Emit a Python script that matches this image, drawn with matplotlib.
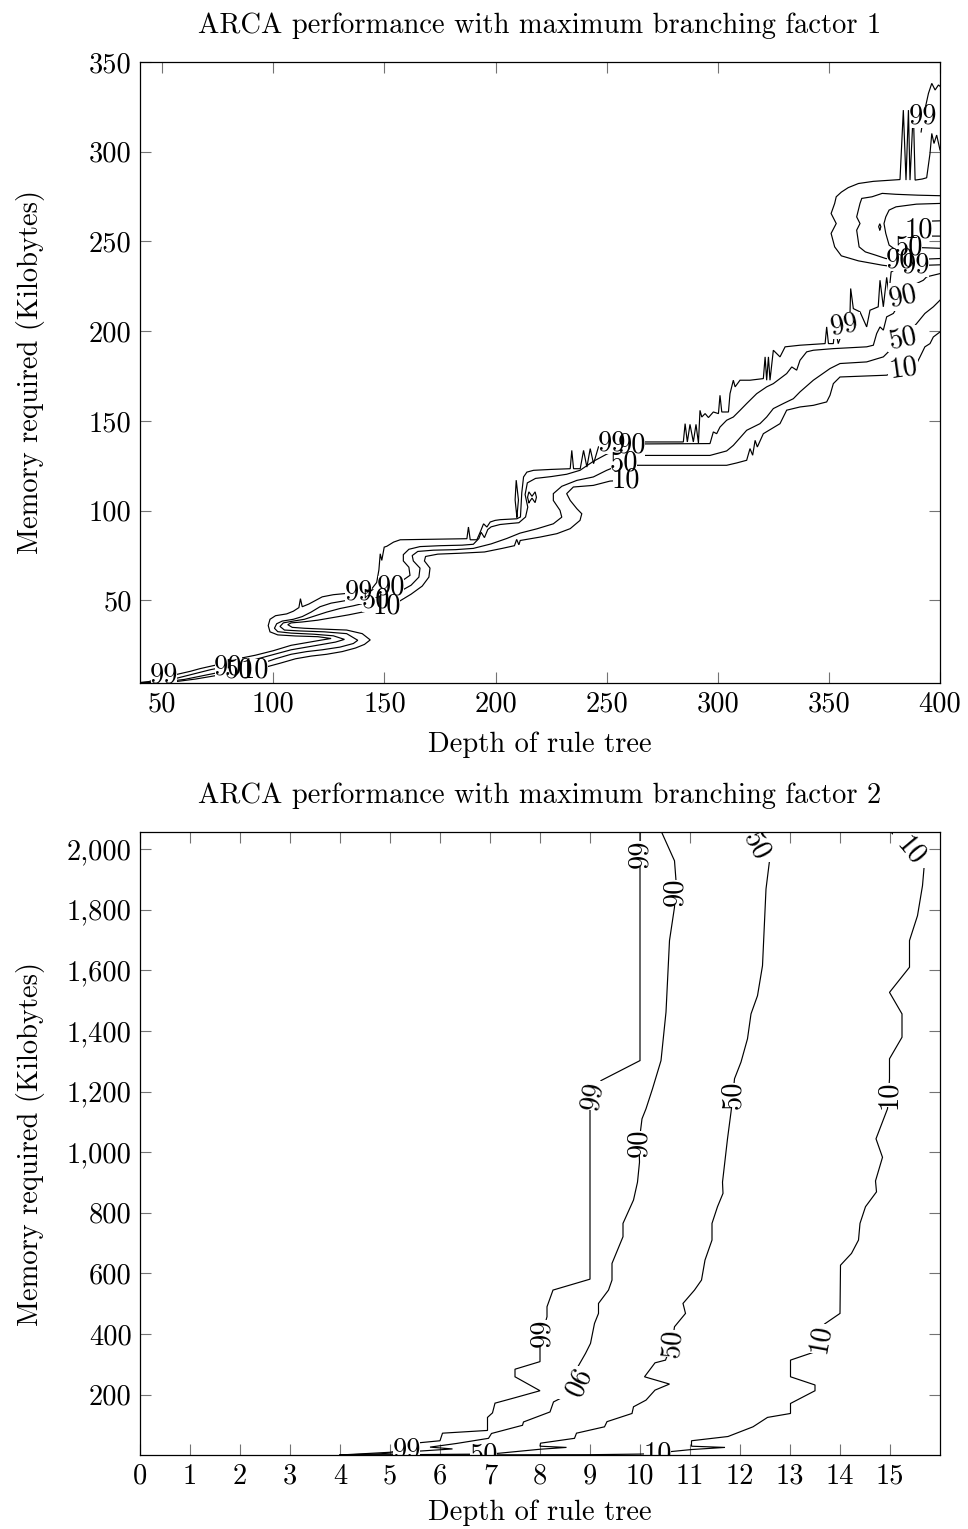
import matplotlib
matplotlib.use("Agg")
import matplotlib.pyplot as plt
from matplotlib.patches import Rectangle
from matplotlib.ticker import FuncFormatter, FixedLocator

plt.rcParams['font.family'] = 'serif'
plt.rcParams['font.serif'] = ['cmr10', 'DejaVu Serif']
plt.rcParams['mathtext.fontset'] = 'cm'
plt.rcParams['axes.formatter.use_mathtext'] = True
plt.rcParams['axes.unicode_minus'] = False

FS = 20.5

# ---------------- Top chart (branching factor 1) ----------------
top_xticks = [50, 100, 150, 200, 250, 300, 350, 400]
top_yticks = [50, 100, 150, 200, 250, 300, 350]

top_c99_main = [
    (40, 4.3), (44, 4.8), (47, 6.0), (50.9, 8.0), (56.6, 8.8), (62.6, 10.5), (67, 12.0), (72, 13.4), (76, 14.5),
    (84, 17.5), (92, 19.5), (100, 22.0), (108, 25.0), (115, 26.5), (122, 28.0), (126, 28.8), (120, 29.8),
    (110, 30.2), (102, 30.8), (98.5, 32.5), (97.7, 36.0), (98.5, 39.5), (101, 41.5), (106, 42.5), (109, 44.0),
    (111.5, 46.0), (112.2, 51.0), (113, 46.5), (116, 48.0), (119, 50.0), (122, 52.0), (127, 53.2), (132, 53.8),
    (138.4, 54.5), (144, 56.0), (146.5, 60.0), (147.5, 67.0), (148.1, 76.0), (148.8, 72.3), (149.9, 79.7),
    (151.1, 80.2), (154.1, 82.5), (157.1, 83.8), (172, 84.1), (187.1, 84.4), (187.8, 90.9), (188.6, 83.8),
    (191.6, 83.8), (193.1, 88.1), (194.6, 92.7), (196.1, 90.9), (197.6, 93.7), (199.8, 94.6), (202.1, 95.0),
    (209.6, 95.5), (211.2, 96.5), (211.8, 110.0), (212.6, 118.8), (214.1, 121.5), (217.1, 122.5), (225, 123.0),
    (233.6, 123.4), (234.3, 133.6), (235.1, 123.4), (238.1, 123.4), (239.6, 133.6), (241.1, 124.3),
    (242.6, 134.6), (244.1, 126.2), (246.3, 135.5), (248.6, 137.3), (252.4, 137.8), (258, 138.2),
    (266.5, 138.3), (284.5, 138.3), (285.3, 148.5), (286.3, 138.3), (287.5, 148.1), (289, 138.3),
    (290.2, 148.1), (291.3, 137.7), (292, 155.9), (292.8, 152.2), (294.3, 154.1), (295.8, 151.9), (298, 155.0),
    (300.3, 154.1), (301, 164.3), (301.8, 155.0), (304.8, 155.0), (305.5, 165.2), (307, 172.7), (307.8, 169.0),
    (310, 172.7), (314.5, 172.7), (320.5, 173.6), (321.3, 185.7), (322, 172.7), (322.8, 185.7), (323.5, 172.7),
    (325, 189.4), (328, 185.7), (330.3, 191.3), (337, 192.2), (348.3, 193.1), (349, 202.4), (349.8, 193.1),
    (352, 193.1), (352.7, 202.4), (354.2, 193.1), (357.2, 203.3), (359.5, 209.9), (359.8, 223.8), (361, 212.6),
    (364, 210.8), (367, 202.4), (368.5, 211.7), (372.2, 213.6), (373, 228.4), (374.5, 213.6), (376, 230.0),
    (377, 221.0), (378, 233.0), (382, 236.0), (389, 236.5), (395, 236.8), (400, 237.0)]
top_c99_loop = [
    (377, 236.3), (374, 236.8), (363.3, 239.2), (355.6, 242.0), (352.6, 247.0), (351.0, 254.5), (353.3, 260.0),
    (351.0, 265.6), (352.6, 271.2), (353.3, 274.9), (355.6, 277.5), (358.7, 280.0), (363.3, 282.3), (370, 283.5),
    (376, 284.0), (382, 284.5), (383.5, 323.2), (384.7, 284.2), (385.8, 323.2), (386.5, 284.2), (388, 323.2),
    (388.8, 284.2), (392, 284.8), (394, 285.5), (395.5, 299.0), (396.3, 310.2), (397.3, 304.6), (398.5, 309.3),
    (400, 301.0)]
top_c99_top = [(391.5, 311.0), (392.5, 319.5), (394.0, 328.0), (394.8, 332.5), (396.3, 338.1), (397.8, 334.4),
               (399.3, 337.2), (400, 336.5)]
top_c99_island = [(209.6, 96.5), (208.8, 106), (209.3, 117), (210.3, 106), (209.6, 96.5)]

top_c90_main = [
    (40, 4.1), (48, 4.8), (56, 6.5), (64, 9.0), (72, 11.5), (76.5, 12.5), (80, 12.8), (84, 14.5), (90, 16.5),
    (96, 18.5), (102, 20.5), (108, 22.5), (115, 24.0), (122, 25.5), (128, 26.8), (132, 28.3), (127, 30.3),
    (118, 31.2), (108, 31.8), (102, 32.6), (100.5, 34.5), (101.5, 37.0), (104, 38.5), (109, 39.5), (113, 41.0),
    (117, 43.5), (121, 46.5), (126, 48.5), (133, 50.0), (140, 51.5), (146, 54.5), (153, 57.5), (158, 61.0),
    (161.5, 64.0), (161, 68.5), (158.5, 72.0), (158.5, 75.5), (161, 78.5), (166, 80.0), (175, 80.5), (185, 80.8),
    (190, 81.3), (192.5, 84.5), (193.5, 88.0), (195, 85.0), (196.5, 89.5), (198, 91.0), (202, 92.3), (206, 92.8),
    (210.5, 93.3), (213.5, 96.5), (214.5, 102), (213.3, 109), (214.3, 115.5), (218, 118.0), (225, 119.0),
    (232, 120.3), (238, 122.5), (244, 127.5), (250, 131.5), (256, 134.5), (261.4, 136.4), (266.5, 137.2),
    (296.5, 137.4), (298, 143.9), (299.5, 142.9), (301, 146.6), (304, 150.4), (307, 152.2), (310, 155.9),
    (313, 159.7), (317.5, 165.2), (322, 169.0), (325, 170.8), (331, 176.4), (333.3, 180.1), (335.5, 178.3),
    (337, 183.8), (340, 188.5), (343, 189.4), (352, 190.3), (367, 191.3), (370, 192.2), (371.5, 198.7),
    (373, 202.4), (374.5, 200.6), (376, 208.0), (379, 209.9), (383.5, 219.1), (389.5, 226.6), (392.5, 228.4),
    (394, 230.3), (400, 232.1)]
top_c90_loop = [
    (400, 275.5), (390, 275.8), (380, 276.3), (374, 276.8), (369.4, 274.9), (364.8, 274.0), (364, 271.2),
    (362.5, 263.7), (364, 260.0), (362.5, 256.3), (363.6, 247.0), (366.4, 244.2), (371, 242.4), (375.6, 240.5),
    (382, 239.5), (390, 240.0), (400, 240.5)]
top_c90_island = [(215, 104.5), (214.4, 107.5), (215, 110.5), (216.4, 108), (217.8, 110.5), (218.4, 107.5),
                  (217.8, 104.5), (216.4, 107), (215, 104.5)]

top_c50_main = [
    (40, 4.0), (50, 4.5), (60, 6.0), (70, 8.5), (78, 10.5), (84, 11.2), (89, 13.0), (95, 15.0), (101, 17.5),
    (108, 20.0), (115, 21.5), (122, 22.5), (130, 24.0), (136, 26.0), (138, 27.8), (133, 31.5), (123, 32.5),
    (112, 33.0), (105, 33.5), (103, 35.5), (104.5, 37.5), (109, 38.5), (114, 39.5), (119, 41.5), (124, 43.5),
    (130, 45.5), (136, 47.0), (141, 48.5), (146, 50.0), (152, 52.5), (157, 55.0), (162, 58.5), (165.5, 63.0),
    (166, 68.0), (163, 72.0), (162.5, 75.0), (165, 77.3), (172, 78.0), (182, 78.3), (190, 79.0), (198, 81.5),
    (205, 84.5), (211, 87.5), (218.6, 89.9), (226, 92.7), (229.8, 96.4), (229, 100.2), (226, 105.7),
    (226, 109.5), (229.8, 113.6), (236.6, 116.9), (244, 118.8), (250, 122.5), (257.8, 126.4), (263.5, 130.8),
    (296.5, 130.8), (304, 133.3), (307, 136.4), (313, 144.8), (319, 148.5), (322, 152.2), (325, 156.9),
    (329.5, 159.7), (334, 162.4), (337, 166.2), (343, 172.7), (350.5, 179.2), (355, 182.0), (367, 182.9),
    (374.5, 185.7), (377.5, 189.4), (383.5, 195.9), (389.5, 204.3), (393.2, 209.9), (397, 213.6), (400, 217.3)]
top_c50_loop = [
    (400, 271.2), (389.4, 270.8), (380.2, 269.3), (377.1, 267.5), (375.6, 263.7), (374.8, 260.0), (375.6, 254.5),
    (377.1, 248.0), (380.2, 245.2), (386, 246.8), (393, 246.5), (400, 246.2)]

top_c10_main = [
    (44, 4.0), (55, 4.6), (65, 6.2), (75, 8.3), (85, 10.0), (91.8, 11.2), (97, 13.0), (103, 15.0), (110, 17.5),
    (117, 19.0), (124, 20.0), (131, 21.5), (137, 23.5), (141, 25.5), (143.6, 28.0), (140, 31.5), (133, 33.5),
    (123, 34.0), (114, 34.5), (108.5, 35.0), (106.5, 36.5), (108, 37.5), (113, 38.0), (120, 39.0), (127, 40.5),
    (134, 42.0), (140, 43.5), (145, 45.0), (151, 46.5), (156, 49.0), (162, 53.5), (167, 58.0), (170, 63.0),
    (170.5, 68.0), (168, 72.0), (168.5, 74.5), (174, 75.8), (184, 76.3), (195, 77.0), (203, 79.0), (208.5, 80.5),
    (209.5, 84.0), (210.5, 81.0), (211.1, 83.4), (220, 85.3), (227.6, 87.2), (233.6, 90.0), (238, 94.6),
    (238.8, 98.3), (236.6, 101.1), (233.6, 105.7), (232, 109.5), (235, 113.2), (244, 114.1), (251.5, 116.5),
    (258.7, 117.0), (263.5, 125.3), (304, 125.3), (308.5, 126.6), (313, 128.1), (314.5, 134.6), (315.7, 130.9),
    (316.8, 139.2), (317.8, 135.5), (320.5, 142.9), (328, 148.5), (331, 156.0), (337, 157.8), (343, 158.7),
    (349, 160.6), (350.5, 164.3), (352, 170.8), (355, 174.5), (376, 175.5), (383.5, 179.0), (389.5, 182.0),
    (391, 185.7), (393.2, 191.3), (395.5, 193.1), (397, 196.8), (400, 199.6)]
top_c10_tongue = [(400, 261.5), (394, 261.3), (388.5, 259.5), (386, 256.5), (388.5, 253.5), (394, 253.0), (400, 253.0)]
top_c10_island = [(372.9, 256.5), (372.4, 258.2), (372.9, 259.9), (373.4, 258.2), (372.9, 256.5)]

top_lab99 = [(50.9, 8.0, 0), (138.4, 54.5, 0), (252.4, 137.8, 0), (357.2, 203.3, 10), (389, 236.5, 0), (392.5, 319.5, 0)]
top_lab90 = [(79.8, 12.8, 0), (153, 57.5, 0), (261.4, 136.4, 0), (383.5, 219.1, 12), (382, 239.5, 0)]
top_lab50 = [(84.5, 11.2, 0), (146, 50.0, 0), (257.8, 126.4, 0), (383.5, 195.9, 12), (386, 246.8, 0)]
top_lab10 = [(91.8, 11.2, 0), (151, 46.5, 0), (258.7, 117.0, 0), (383.5, 179.0, 8), (390.5, 256.4, 0)]

# ---------------- Bottom chart (branching factor 2) ----------------
bot_xticks = list(range(0, 16))
bot_yticks = [200, 400, 600, 800, 1000, 1200, 1400, 1600, 1800, 2000]

bot_c99 = [(10.0, 2060), (10.0, 1302), (9.22, 1236), (9.05, 1187), (9.0, 1143), (9.0, 581), (8.26, 545),
           (8.14, 490), (8.14, 457), (8.05, 405), (8.0, 358), (8.0, 309), (7.5, 284), (7.5, 259), (8.0, 213),
           (7.5, 190), (7.1, 172), (7.05, 140), (6.95, 125), (6.95, 82), (6.05, 73), (6.0, 48), (5.5, 40),
           (5.33, 20), (5.0, 10), (4.0, 1)]
bot_c90 = [(10.42, 2060), (10.69, 1961), (10.72, 1896), (10.70, 1855), (10.69, 1808), (10.59, 1698),
           (10.52, 1462), (10.42, 1302), (10.25, 1209), (10.12, 1143), (10.04, 1110), (9.98, 1030), (9.99, 967),
           (9.95, 901), (9.87, 842), (9.66, 765), (9.66, 721), (9.44, 633), (9.44, 578), (9.37, 545), (9.17, 501),
           (9.17, 468), (9.09, 435), (9.01, 369), (8.91, 336), (8.75, 290), (8.66, 241), (8.53, 198), (8.27, 176),
           (8.2, 143), (7.67, 110), (7.65, 99), (7.03, 72), (6.97, 56), (6.33, 39), (5.8, 27), (6.25, 21),
           (5.6, 14), (4.8, 5), (4.0, 1)]
bot_c50 = [(12.02, 2060), (12.32, 2011), (12.59, 1961), (12.52, 1868), (12.45, 1615), (12.35, 1516),
           (12.22, 1456), (12.15, 1374), (12.02, 1297), (11.89, 1242), (11.86, 1189), (11.82, 1132),
           (11.75, 1044), (11.65, 901), (11.66, 864), (11.55, 820), (11.44, 765), (11.44, 710), (11.3, 644),
           (11.23, 578), (11.09, 545), (10.86, 501), (10.91, 468), (10.69, 424), (10.64, 369), (10.51, 314),
           (10.3, 305), (10.09, 259), (10.59, 235), (10.3, 215), (10.12, 182), (9.87, 160), (9.84, 138),
           (9.34, 111), (9.29, 94), (8.73, 73), (8.69, 56), (8.01, 40), (8.0, 30), (8.53, 26), (8.0, 20),
           (7.13, 6), (6.87, 4), (6.0, 3), (5.0, 1.5), (4.0, 1)]
bot_c10 = [(14.99, 2060), (15.42, 1994), (15.69, 1956), (15.65, 1879), (15.55, 1780), (15.39, 1698),
           (15.39, 1610), (14.99, 1527), (15.24, 1456), (15.24, 1379), (14.99, 1308), (14.99, 1242),
           (14.97, 1189), (14.95, 1143), (14.72, 1044), (14.85, 983), (14.71, 905), (14.73, 869), (14.51, 820),
           (14.4, 765), (14.37, 710), (14.23, 666), (14.01, 627), (14.0, 468), (13.69, 433), (13.6, 386),
           (13.51, 342), (13.01, 314), (13.01, 259), (13.5, 232), (13.5, 213), (13.01, 171), (13.01, 138),
           (12.55, 125), (12.26, 94), (11.76, 62), (11.03, 48), (11.03, 30), (11.7, 26), (11.03, 19), (10.6, 12),
           (10.35, 6), (10.0, 4), (9.0, 2), (7.0, 1.5), (5.5, 1), (4.0, 1)]

bot_lab99 = [(10.0, 1985, 90), (9.05, 1187, 80), (8.05, 405, 90), (5.33, 17, 0)]
bot_lab90 = [(10.70, 1858, 90), (9.98, 1030, 90), (8.66, 241, 245)]
bot_lab50 = [(12.32, 2011, -62), (11.86, 1189, 90), (10.64, 369, 85), (6.87, 0, 0)]
bot_lab10 = [(15.42, 1994, -50), (14.97, 1189, 90), (13.6, 386, 80), (10.35, 4, 0)]

# ---------------- drawing ----------------
fig = plt.figure(figsize=(9.68, 15.29), dpi=100)
ax1 = fig.add_axes([140 / 968, 1 - 683 / 1529, 800 / 968, 621 / 1529])
ax2 = fig.add_axes([140 / 968, 1 - 1455 / 1529, 800 / 968, 623 / 1529])

label_artists = []


def draw_line(ax, pts):
    xs = [p[0] for p in pts]
    ys = [p[1] for p in pts]
    ax.plot(xs, ys, color='black', lw=0.85, solid_joinstyle='miter', zorder=2)


def draw_labels(ax, labs, text):
    for x, y, r in labs:
        t = ax.text(x, y, text, rotation=r, rotation_mode='anchor', ha='center', va='center',
                    fontsize=FS, color='black', zorder=2.3, clip_on=True)
        label_artists.append((ax, t))


for pts in [top_c99_main, top_c99_loop, top_c99_top, top_c99_island,
            top_c90_main, top_c90_loop, top_c90_island,
            top_c50_main, top_c50_loop,
            top_c10_main, top_c10_tongue, top_c10_island]:
    draw_line(ax1, pts)
draw_labels(ax1, top_lab99, '99')
draw_labels(ax1, top_lab90, '90')
draw_labels(ax1, top_lab50, '50')
draw_labels(ax1, top_lab10, '10')

for pts in [bot_c99, bot_c90, bot_c50, bot_c10]:
    draw_line(ax2, pts)
draw_labels(ax2, bot_lab99, '99')
draw_labels(ax2, bot_lab90, '90')
draw_labels(ax2, bot_lab50, '50')
draw_labels(ax2, bot_lab10, '10')

ax1.set_xlim(40, 400)
ax1.set_ylim(4, 350)
ax1.xaxis.set_major_locator(FixedLocator(top_xticks))
ax1.yaxis.set_major_locator(FixedLocator(top_yticks))
ax1.xaxis.set_major_formatter(FuncFormatter(lambda v, p: f"{v:.0f}"))
ax1.yaxis.set_major_formatter(FuncFormatter(lambda v, p: f"{v:.0f}"))

ax2.set_xlim(0, 16)
ax2.set_ylim(1, 2056)
ax2.xaxis.set_major_locator(FixedLocator(bot_xticks))
ax2.yaxis.set_major_locator(FixedLocator(bot_yticks))
ax2.xaxis.set_major_formatter(FuncFormatter(lambda v, p: f"{v:.0f}"))
ax2.yaxis.set_major_formatter(FuncFormatter(lambda v, p: f"{v:,.0f}"))

for ax, title, xl_y in [(ax1, 'ARCA performance with maximum branching factor 1', -0.078),
                        (ax2, 'ARCA performance with maximum branching factor 2', -0.072)]:
    ax.tick_params(axis='both', which='major', direction='in', top=True, right=True,
                   length=8, width=0.8, color='0.45', labelsize=FS, pad=6)
    for s in ax.spines.values():
        s.set_linewidth(0.9)
        s.set_color('black')
        s.set_zorder(2.5)
    ax.set_title(title, fontsize=FS, pad=21)
    ax.set_xlabel('Depth of rule tree', fontsize=FS)
    ax.set_ylabel('Memory required (Kilobytes)', fontsize=FS)
    ax.xaxis.set_label_coords(0.5, xl_y)
    ax.yaxis.set_label_coords(-0.119, 0.5)

# white knock-out behind each contour label: hides the contour line under the label,
# while every label text stays above all knock-outs (overlapping labels remain visible)
fig.canvas.draw()
renderer = fig.canvas.get_renderer()
for ax, t in label_artists:
    bb = t.get_window_extent(renderer)
    inv = ax.transData.inverted()
    (x0, y0), (x1, y1) = inv.transform([(bb.x0 + 1, bb.y0 + 2), (bb.x1 - 1, bb.y1 - 2)])
    ax.add_patch(Rectangle((x0, y0), x1 - x0, y1 - y0, facecolor='white', edgecolor='none',
                           zorder=2.1, clip_on=True))

fig.savefig('out.png', dpi=100)
